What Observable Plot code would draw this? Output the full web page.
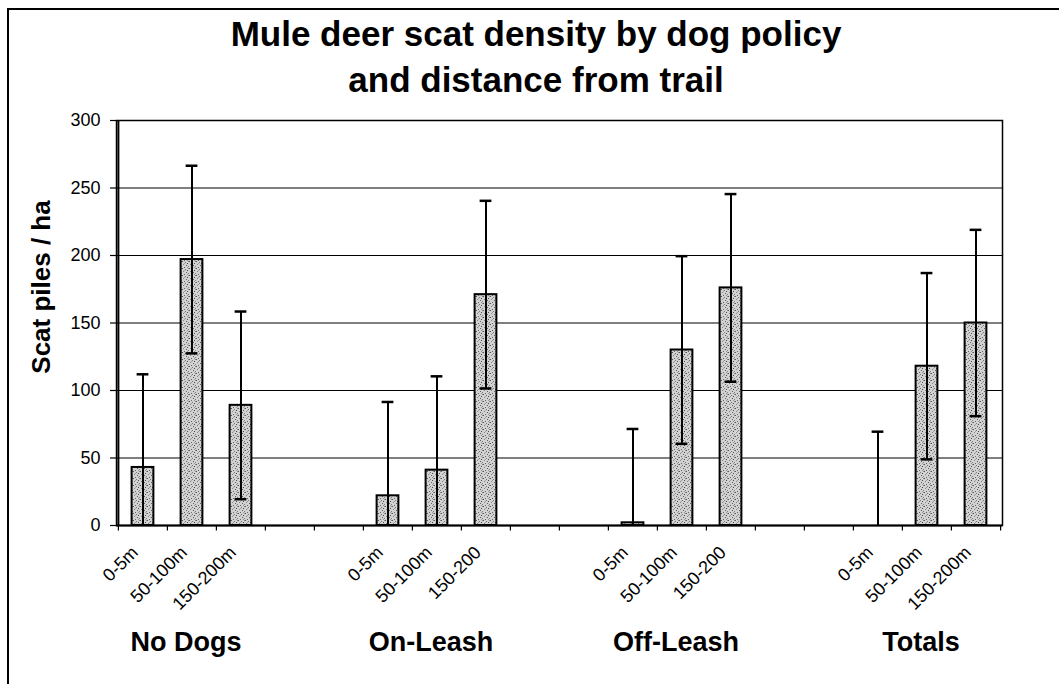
<!DOCTYPE html>
<html>
<head>
<meta charset="utf-8">
<script src="https://cdn.jsdelivr.net/npm/d3@7"></script>
<script src="https://cdn.jsdelivr.net/npm/@observablehq/plot@0.6"></script>
<style>
  html, body { margin: 0; padding: 0; background: #fff; overflow: hidden; }
  body { width: 1059px; height: 684px; position: relative; font-family: "Liberation Sans", Arial, sans-serif; }
  #border { position: absolute; left: 7px; top: 8px; right: -5px; bottom: -5px; border-top: 2px solid #000; border-left: 2px solid #000; }
  #title { position: absolute; left: 0; top: 0; width: 1072px; padding-top: 11px; text-align: center;
           font-weight: bold; font-size: 35px; line-height: 46px; color: #000; }
  #chart { position: absolute; left: 0; top: 100px; }
</style>
</head>
<body>
<svg width="0" height="0" style="position:absolute">
  <defs>
    <pattern id="stipple" width="7" height="7" patternUnits="userSpaceOnUse">
      <rect width="7" height="7" fill="#d2d2d2"/>
      <rect x="0" y="0" width="1" height="1" fill="#555"/>
      <rect x="3" y="1" width="1" height="1" fill="#777"/>
      <rect x="5" y="2" width="1" height="1" fill="#4a4a4a"/>
      <rect x="1" y="3" width="1" height="1" fill="#888"/>
      <rect x="4" y="4" width="1" height="1" fill="#5f5f5f"/>
      <rect x="6" y="5" width="1" height="1" fill="#808080"/>
      <rect x="2" y="6" width="1" height="1" fill="#666"/>
      <rect x="5" y="6" width="1" height="1" fill="#999"/>
      <rect x="6" y="0" width="1" height="1" fill="#8a8a8a"/>
      <rect x="2" y="2" width="1" height="1" fill="#a0a0a0"/>
    </pattern>
  </defs>
</svg>
<div id="border"></div>
<div id="title">Mule deer scat density by dog policy<br>and distance from trail</div>
<div id="chart"></div>
<script>
// ---- data ----
const groups = ["No Dogs", "On-Leash", "Off-Leash", "Totals"];
const distanceLabels = [
  ["0-5m", "50-100m", "150-200m"],
  ["0-5m", "50-100m", "150-200"],
  ["0-5m", "50-100m", "150-200"],
  ["0-5m", "50-100m", "150-200m"]
];
const means = [
  [43, 197, 89],
  [22, 41, 171],
  [2, 130, 176],
  [0, 118, 150]
];
const errors = [
  [69, 69.5, 69.5],
  [69.5, 69.5, 69.5],
  [69.5, 69.5, 69.5],
  [69.5, 69, 69]
];
const yTicks = [0, 50, 100, 150, 200, 250, 300];
const gapSlots = 2;

// ---- build table ----
const rows = [];
const domain = [];
groups.forEach((g, gi) => {
  distanceLabels[gi].forEach((d, di) => {
    const key = g + "|" + d;
    domain.push(key);
    rows.push({ key, group: g, label: d, mean: means[gi][di], err: errors[gi][di] });
  });
  if (gi < groups.length - 1) for (let k = 0; k < gapSlots; k++) domain.push("gap" + gi + "_" + k);
});
const labelByKey = new Map(rows.map(r => [r.key, r.label]));
const groupMid = groups.map((g, gi) => ({ group: g, key: g + "|" + distanceLabels[gi][1] }));

const W = 1059, H = 584;
const mL = 116, mR = 57, mT = 20, mB = 159;
const step = (W - mL - mR) / domain.length;
const barInset = (step - 22) / 2;
const capInset = (step - 12) / 2;

const chart = Plot.plot({
  width: W,
  height: H,
  marginLeft: mL,
  marginRight: mR,
  marginTop: mT,
  marginBottom: mB,
  style: { fontFamily: "'Liberation Sans', Arial, sans-serif", color: "#000", background: "transparent" },
  x: { type: "band", domain, padding: 0 },
  y: { domain: [0, 300] },
  marks: [
    Plot.ruleY(yTicks.filter(t => t > 0 && t < 300), { stroke: "#000", strokeWidth: 1.2 }),
    Plot.barY(rows, { x: "key", y: "mean", fill: "url(#stipple)", stroke: "#000", strokeWidth: 2,
                      insetLeft: barInset, insetRight: barInset }),
    Plot.ruleX(rows, { x: "key", y1: d => Math.max(0, d.mean - d.err), y2: d => d.mean + d.err,
                       stroke: "#000", strokeWidth: 2 }),
    Plot.tickY(rows, { x: "key", y: d => d.mean + d.err, stroke: "#000", strokeWidth: 2.5,
                       insetLeft: capInset, insetRight: capInset }),
    Plot.tickY(rows.filter(d => d.mean - d.err > 0), { x: "key", y: d => d.mean - d.err, stroke: "#000", strokeWidth: 2.5,
                       insetLeft: capInset, insetRight: capInset }),
    Plot.frame({ stroke: "#000", strokeWidth: 1.5 }),
    Plot.ruleX([0], { x: () => domain[0], dx: -step / 2, y1: 0, y2: 300, stroke: "#000", strokeWidth: 2 }),
    Plot.ruleY([0], { stroke: "#000", strokeWidth: 2 }),
    // category boundary ticks below the axis
    Plot.ruleX(domain, { x: d => d, dx: -step / 2, y1: 0, y2: -4, stroke: "#000", strokeWidth: 1.2 }),
    Plot.ruleX([domain[domain.length - 1]], { x: d => d, dx: step / 2, y1: 0, y2: -4, stroke: "#000", strokeWidth: 1.2 }),
    Plot.axisY({ ticks: yTicks, tickSize: 6, tickPadding: 10, fontSize: 18, label: null, stroke: "#000", strokeWidth: 1.2 }),
    Plot.axisX({ ticks: rows.map(r => r.key), tickFormat: k => labelByKey.get(k), tickRotate: -45,
                 tickSize: 0, tickPadding: 24, dx: -8, fontSize: 18, label: null }),
    Plot.text(groupMid, { x: "key", text: "group", frameAnchor: "bottom", dy: 117, dx: -6,
                          fontSize: 27, fontWeight: "bold", lineAnchor: "middle" }),
    Plot.text(["Scat piles / ha"], { frameAnchor: "left", text: d => d, rotate: -90, dx: -75, dy: -36,
                                     textAnchor: "middle", fontSize: 26, fontWeight: "bold", lineAnchor: "middle" })
  ]
});
document.getElementById("chart").appendChild(chart);
</script>
</body>
</html>
